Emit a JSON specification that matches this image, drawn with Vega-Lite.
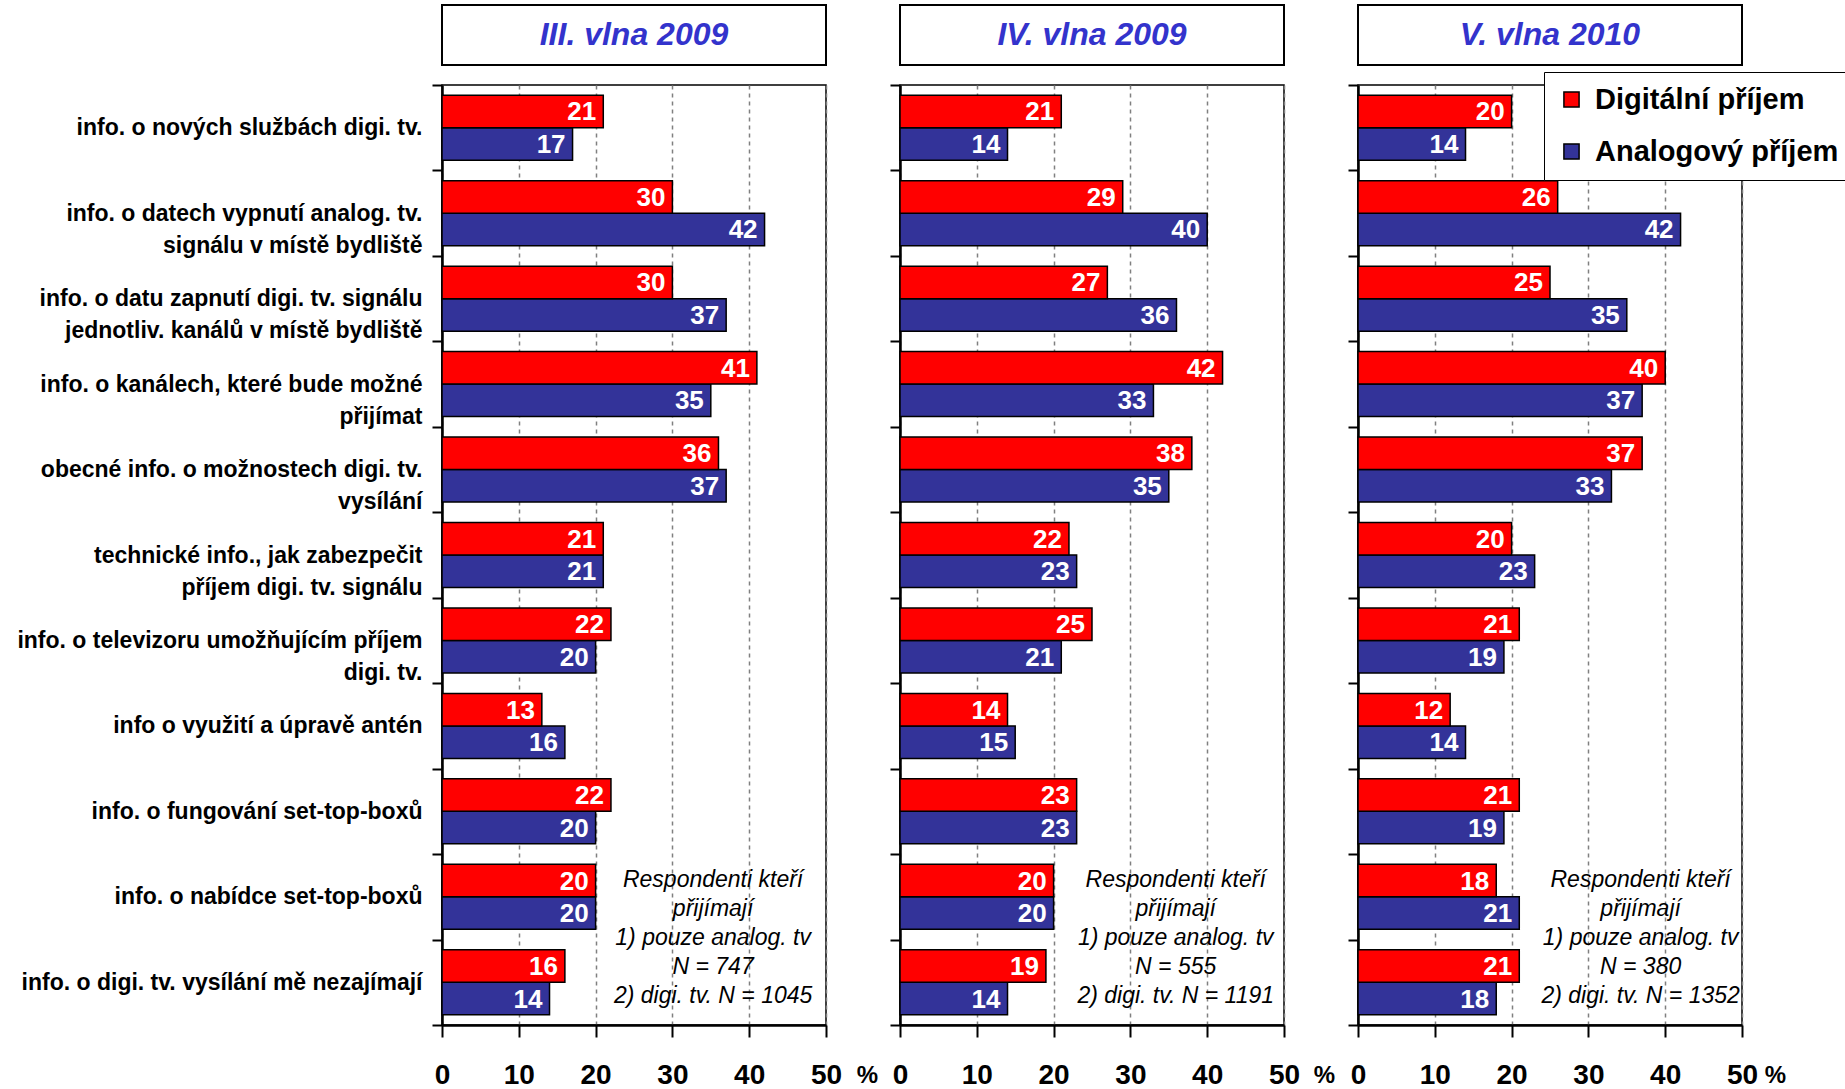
{
  "$schema": "https://vega.github.io/schema/vega-lite/v6.json",
  "background": "white",
  "padding": {"left": 16, "top": 4, "right": 0, "bottom": 0},
  "autosize": {"type": "pad"},
  "config": {
    "font": "Liberation Sans",
    "view": {"stroke": "black", "strokeWidth": 1.5},
    "axisX": {
      "labelFont": "Liberation Sans", "labelFontSize": 28, "labelFontWeight": "bold", "labelColor": "black",
      "labelPadding": 24, "tickSize": 12, "tickWidth": 2, "tickColor": "black",
      "domainColor": "black", "domainWidth": 2.5,
      "grid": true, "gridColor": "#808080", "gridDash": [4, 4], "gridWidth": 1.5,
      "labelFlush": false, "labelOverlap": false,
      "titleAlign": "center", "titleBaseline": "middle", "titleFont": "Liberation Sans", "titleFontSize": 24, "titleFontWeight": "bold", "titleColor": "black", "titleY": 50
    },
    "axisY": {
      "labelFont": "Liberation Sans", "labelFontSize": 23, "labelFontWeight": "bold", "labelColor": "black",
      "labelLineHeight": 32, "labelLimit": 600, "labelPadding": 10,
      "tickSize": 10, "tickWidth": 2, "tickColor": "black",
      "domainColor": "black", "domainWidth": 2.5, "tickBand": "extent", "grid": false
    }
  },
  "datasets": {
    "bars": [
      {"wave": "III. vlna 2009", "cat": "info. o nových službách digi. tv.", "Digitální příjem": 21, "Analogový příjem": 17},
      {"wave": "III. vlna 2009", "cat": "info. o datech vypnutí analog. tv.|signálu v místě bydliště", "Digitální příjem": 30, "Analogový příjem": 42},
      {"wave": "III. vlna 2009", "cat": "info. o datu zapnutí digi. tv. signálu|jednotliv. kanálů v místě bydliště", "Digitální příjem": 30, "Analogový příjem": 37},
      {"wave": "III. vlna 2009", "cat": "info. o kanálech, které bude možné|přijímat", "Digitální příjem": 41, "Analogový příjem": 35},
      {"wave": "III. vlna 2009", "cat": "obecné info. o možnostech digi. tv.|vysílání", "Digitální příjem": 36, "Analogový příjem": 37},
      {"wave": "III. vlna 2009", "cat": "technické info., jak zabezpečit|příjem digi. tv. signálu", "Digitální příjem": 21, "Analogový příjem": 21},
      {"wave": "III. vlna 2009", "cat": "info. o televizoru umožňujícím příjem|digi. tv.", "Digitální příjem": 22, "Analogový příjem": 20},
      {"wave": "III. vlna 2009", "cat": "info o využití a úpravě antén", "Digitální příjem": 13, "Analogový příjem": 16},
      {"wave": "III. vlna 2009", "cat": "info. o fungování set-top-boxů", "Digitální příjem": 22, "Analogový příjem": 20},
      {"wave": "III. vlna 2009", "cat": "info. o nabídce set-top-boxů", "Digitální příjem": 20, "Analogový příjem": 20},
      {"wave": "III. vlna 2009", "cat": "info. o digi. tv. vysílání mě nezajímají", "Digitální příjem": 16, "Analogový příjem": 14},
      {"wave": "IV. vlna 2009", "cat": "info. o nových službách digi. tv.", "Digitální příjem": 21, "Analogový příjem": 14},
      {"wave": "IV. vlna 2009", "cat": "info. o datech vypnutí analog. tv.|signálu v místě bydliště", "Digitální příjem": 29, "Analogový příjem": 40},
      {"wave": "IV. vlna 2009", "cat": "info. o datu zapnutí digi. tv. signálu|jednotliv. kanálů v místě bydliště", "Digitální příjem": 27, "Analogový příjem": 36},
      {"wave": "IV. vlna 2009", "cat": "info. o kanálech, které bude možné|přijímat", "Digitální příjem": 42, "Analogový příjem": 33},
      {"wave": "IV. vlna 2009", "cat": "obecné info. o možnostech digi. tv.|vysílání", "Digitální příjem": 38, "Analogový příjem": 35},
      {"wave": "IV. vlna 2009", "cat": "technické info., jak zabezpečit|příjem digi. tv. signálu", "Digitální příjem": 22, "Analogový příjem": 23},
      {"wave": "IV. vlna 2009", "cat": "info. o televizoru umožňujícím příjem|digi. tv.", "Digitální příjem": 25, "Analogový příjem": 21},
      {"wave": "IV. vlna 2009", "cat": "info o využití a úpravě antén", "Digitální příjem": 14, "Analogový příjem": 15},
      {"wave": "IV. vlna 2009", "cat": "info. o fungování set-top-boxů", "Digitální příjem": 23, "Analogový příjem": 23},
      {"wave": "IV. vlna 2009", "cat": "info. o nabídce set-top-boxů", "Digitální příjem": 20, "Analogový příjem": 20},
      {"wave": "IV. vlna 2009", "cat": "info. o digi. tv. vysílání mě nezajímají", "Digitální příjem": 19, "Analogový příjem": 14},
      {"wave": "V. vlna 2010", "cat": "info. o nových službách digi. tv.", "Digitální příjem": 20, "Analogový příjem": 14},
      {"wave": "V. vlna 2010", "cat": "info. o datech vypnutí analog. tv.|signálu v místě bydliště", "Digitální příjem": 26, "Analogový příjem": 42},
      {"wave": "V. vlna 2010", "cat": "info. o datu zapnutí digi. tv. signálu|jednotliv. kanálů v místě bydliště", "Digitální příjem": 25, "Analogový příjem": 35},
      {"wave": "V. vlna 2010", "cat": "info. o kanálech, které bude možné|přijímat", "Digitální příjem": 40, "Analogový příjem": 37},
      {"wave": "V. vlna 2010", "cat": "obecné info. o možnostech digi. tv.|vysílání", "Digitální příjem": 37, "Analogový příjem": 33},
      {"wave": "V. vlna 2010", "cat": "technické info., jak zabezpečit|příjem digi. tv. signálu", "Digitální příjem": 20, "Analogový příjem": 23},
      {"wave": "V. vlna 2010", "cat": "info. o televizoru umožňujícím příjem|digi. tv.", "Digitální příjem": 21, "Analogový příjem": 19},
      {"wave": "V. vlna 2010", "cat": "info o využití a úpravě antén", "Digitální příjem": 12, "Analogový příjem": 14},
      {"wave": "V. vlna 2010", "cat": "info. o fungování set-top-boxů", "Digitální příjem": 21, "Analogový příjem": 19},
      {"wave": "V. vlna 2010", "cat": "info. o nabídce set-top-boxů", "Digitální příjem": 18, "Analogový příjem": 21},
      {"wave": "V. vlna 2010", "cat": "info. o digi. tv. vysílání mě nezajímají", "Digitální příjem": 21, "Analogový příjem": 18}
    ],
    "notes": [
      {"wave": "III. vlna 2009", "cat": "info. o nabídce set-top-boxů", "x": 35.3, "note": "Respondenti kteří\npřijímají\n1) pouze analog. tv\nN = 747\n2) digi. tv. N = 1045"},
      {"wave": "IV. vlna 2009", "cat": "info. o nabídce set-top-boxů", "x": 35.9, "note": "Respondenti kteří\npřijímají\n1) pouze analog. tv\nN = 555\n2) digi. tv. N = 1191"},
      {"wave": "V. vlna 2010", "cat": "info. o nabídce set-top-boxů", "x": 36.8, "note": "Respondenti kteří\npřijímají\n1) pouze analog. tv\nN = 380\n2) digi. tv. N = 1352"}
    ]
  },
  "columns": 3,
  "bounds": "flush",
  "spacing": {"row": 20, "column": 74},
  "resolve": {"scale": {"yOffset": "independent", "color": "shared"}, "legend": {"color": "independent"}},
  "concat": [
    {
      "width": 384, "height": 60,
      "view": {"stroke": "black", "strokeWidth": 2, "fill": "white"},
      "data": {"values": [{"wave": "III. vlna 2009"}]},
      "mark": {"type": "text", "font": "Liberation Sans", "fontSize": 32, "fontWeight": "bold", "fontStyle": "italic", "color": "#3333CC"},
      "encoding": {"text": {"field": "wave", "type": "nominal"}}
    },
    {
      "width": 384, "height": 60,
      "view": {"stroke": "black", "strokeWidth": 2, "fill": "white"},
      "data": {"values": [{"wave": "IV. vlna 2009"}]},
      "mark": {"type": "text", "font": "Liberation Sans", "fontSize": 32, "fontWeight": "bold", "fontStyle": "italic", "color": "#3333CC"},
      "encoding": {"text": {"field": "wave", "type": "nominal"}}
    },
    {
      "width": 384, "height": 60,
      "view": {"stroke": "black", "strokeWidth": 2, "fill": "white"},
      "data": {"values": [{"wave": "V. vlna 2010"}]},
      "mark": {"type": "text", "font": "Liberation Sans", "fontSize": 32, "fontWeight": "bold", "fontStyle": "italic", "color": "#3333CC"},
      "encoding": {"text": {"field": "wave", "type": "nominal"}}
    },
    {
      "width": 384, "height": 940,
      "layer": [
        {
          "data": {"name": "bars"},
          "transform": [{"filter": "datum.wave == 'III. vlna 2009'"}, {"fold": ["Analogový příjem", "Digitální příjem"], "as": ["series", "value"]}],
          "mark": {"type": "bar", "stroke": "black", "strokeWidth": 1.5},
          "encoding": {
            "y": {"field": "cat", "type": "nominal", "title": null, "scale": {"domain": ["info. o nových službách digi. tv.", "info. o datech vypnutí analog. tv.|signálu v místě bydliště", "info. o datu zapnutí digi. tv. signálu|jednotliv. kanálů v místě bydliště", "info. o kanálech, které bude možné|přijímat", "obecné info. o možnostech digi. tv.|vysílání", "technické info., jak zabezpečit|příjem digi. tv. signálu", "info. o televizoru umožňujícím příjem|digi. tv.", "info o využití a úpravě antén", "info. o fungování set-top-boxů", "info. o nabídce set-top-boxů", "info. o digi. tv. vysílání mě nezajímají"], "paddingInner": 0, "paddingOuter": 0}, "axis": {"labelExpr": "split(datum.label, '|')", "encode": {"labels": {"update": {"dy": {"signal": "indexof(datum.value, '|') >= 0 ? -16 : 0"}}}}}},
            "x": {"field": "value", "type": "quantitative", "scale": {"domain": [0, 50], "nice": false}, "axis": {"values": [0, 10, 20, 30, 40, 50], "format": "d", "title": "%", "titleX": 425}},
            "yOffset": {"field": "series", "type": "nominal", "scale": {"domain": ["Digitální příjem", "Analogový příjem"], "paddingInner": 0, "paddingOuter": 0.315}},
            "color": {"field": "series", "type": "nominal", "scale": {"domain": ["Digitální příjem", "Analogový příjem"], "range": ["#FF0000", "#333399"]}, "legend": null}
          }
        },
        {
          "data": {"name": "bars"},
          "transform": [{"filter": "datum.wave == 'III. vlna 2009'"}, {"fold": ["Analogový příjem", "Digitální příjem"], "as": ["series", "value"]}],
          "mark": {"type": "text", "align": "right", "baseline": "middle", "dx": -7, "dy": 1, "color": "white", "font": "Liberation Sans", "fontSize": 26, "fontWeight": "bold"},
          "encoding": {
            "y": {"field": "cat", "type": "nominal", "title": null, "scale": {"domain": ["info. o nových službách digi. tv.", "info. o datech vypnutí analog. tv.|signálu v místě bydliště", "info. o datu zapnutí digi. tv. signálu|jednotliv. kanálů v místě bydliště", "info. o kanálech, které bude možné|přijímat", "obecné info. o možnostech digi. tv.|vysílání", "technické info., jak zabezpečit|příjem digi. tv. signálu", "info. o televizoru umožňujícím příjem|digi. tv.", "info o využití a úpravě antén", "info. o fungování set-top-boxů", "info. o nabídce set-top-boxů", "info. o digi. tv. vysílání mě nezajímají"], "paddingInner": 0, "paddingOuter": 0}, "axis": {"labelExpr": "split(datum.label, '|')", "encode": {"labels": {"update": {"dy": {"signal": "indexof(datum.value, '|') >= 0 ? -16 : 0"}}}}}},
            "x": {"field": "value", "type": "quantitative", "scale": {"domain": [0, 50], "nice": false}, "axis": {"values": [0, 10, 20, 30, 40, 50], "format": "d", "title": "%", "titleX": 425}},
            "yOffset": {"field": "series", "type": "nominal", "scale": {"domain": ["Digitální příjem", "Analogový příjem"], "paddingInner": 0, "paddingOuter": 0.315}},
            "text": {"field": "value", "type": "quantitative"}
          }
        },
        {
          "data": {"name": "notes"},
          "transform": [{"filter": "datum.wave == 'III. vlna 2009'"}],
          "mark": {"type": "text", "align": "center", "baseline": "middle", "lineBreak": "\n", "lineHeight": 29, "font": "Liberation Sans", "fontSize": 23, "fontStyle": "italic", "color": "black"},
          "encoding": {
            "y": {"field": "cat", "type": "nominal", "bandPosition": 0.3, "title": null, "scale": {"domain": ["info. o nových službách digi. tv.", "info. o datech vypnutí analog. tv.|signálu v místě bydliště", "info. o datu zapnutí digi. tv. signálu|jednotliv. kanálů v místě bydliště", "info. o kanálech, které bude možné|přijímat", "obecné info. o možnostech digi. tv.|vysílání", "technické info., jak zabezpečit|příjem digi. tv. signálu", "info. o televizoru umožňujícím příjem|digi. tv.", "info o využití a úpravě antén", "info. o fungování set-top-boxů", "info. o nabídce set-top-boxů", "info. o digi. tv. vysílání mě nezajímají"], "paddingInner": 0, "paddingOuter": 0}, "axis": {"labelExpr": "split(datum.label, '|')", "encode": {"labels": {"update": {"dy": {"signal": "indexof(datum.value, '|') >= 0 ? -16 : 0"}}}}}},
            "x": {"field": "x", "type": "quantitative", "scale": {"domain": [0, 50], "nice": false}, "axis": {"values": [0, 10, 20, 30, 40, 50], "format": "d", "title": "%", "titleX": 425}},
            "text": {"field": "note", "type": "nominal"}
          }
        }
      ]
    },
    {
      "width": 384, "height": 940,
      "layer": [
        {
          "data": {"name": "bars"},
          "transform": [{"filter": "datum.wave == 'IV. vlna 2009'"}, {"fold": ["Analogový příjem", "Digitální příjem"], "as": ["series", "value"]}],
          "mark": {"type": "bar", "stroke": "black", "strokeWidth": 1.5},
          "encoding": {
            "y": {"field": "cat", "type": "nominal", "title": null, "scale": {"domain": ["info. o nových službách digi. tv.", "info. o datech vypnutí analog. tv.|signálu v místě bydliště", "info. o datu zapnutí digi. tv. signálu|jednotliv. kanálů v místě bydliště", "info. o kanálech, které bude možné|přijímat", "obecné info. o možnostech digi. tv.|vysílání", "technické info., jak zabezpečit|příjem digi. tv. signálu", "info. o televizoru umožňujícím příjem|digi. tv.", "info o využití a úpravě antén", "info. o fungování set-top-boxů", "info. o nabídce set-top-boxů", "info. o digi. tv. vysílání mě nezajímají"], "paddingInner": 0, "paddingOuter": 0}, "axis": {"labels": false}},
            "x": {"field": "value", "type": "quantitative", "scale": {"domain": [0, 50], "nice": false}, "axis": {"values": [0, 10, 20, 30, 40, 50], "format": "d", "title": "%", "titleX": 424}},
            "yOffset": {"field": "series", "type": "nominal", "scale": {"domain": ["Digitální příjem", "Analogový příjem"], "paddingInner": 0, "paddingOuter": 0.315}},
            "color": {"field": "series", "type": "nominal", "scale": {"domain": ["Digitální příjem", "Analogový příjem"], "range": ["#FF0000", "#333399"]}, "legend": null}
          }
        },
        {
          "data": {"name": "bars"},
          "transform": [{"filter": "datum.wave == 'IV. vlna 2009'"}, {"fold": ["Analogový příjem", "Digitální příjem"], "as": ["series", "value"]}],
          "mark": {"type": "text", "align": "right", "baseline": "middle", "dx": -7, "dy": 1, "color": "white", "font": "Liberation Sans", "fontSize": 26, "fontWeight": "bold"},
          "encoding": {
            "y": {"field": "cat", "type": "nominal", "title": null, "scale": {"domain": ["info. o nových službách digi. tv.", "info. o datech vypnutí analog. tv.|signálu v místě bydliště", "info. o datu zapnutí digi. tv. signálu|jednotliv. kanálů v místě bydliště", "info. o kanálech, které bude možné|přijímat", "obecné info. o možnostech digi. tv.|vysílání", "technické info., jak zabezpečit|příjem digi. tv. signálu", "info. o televizoru umožňujícím příjem|digi. tv.", "info o využití a úpravě antén", "info. o fungování set-top-boxů", "info. o nabídce set-top-boxů", "info. o digi. tv. vysílání mě nezajímají"], "paddingInner": 0, "paddingOuter": 0}, "axis": {"labels": false}},
            "x": {"field": "value", "type": "quantitative", "scale": {"domain": [0, 50], "nice": false}, "axis": {"values": [0, 10, 20, 30, 40, 50], "format": "d", "title": "%", "titleX": 424}},
            "yOffset": {"field": "series", "type": "nominal", "scale": {"domain": ["Digitální příjem", "Analogový příjem"], "paddingInner": 0, "paddingOuter": 0.315}},
            "text": {"field": "value", "type": "quantitative"}
          }
        },
        {
          "data": {"name": "notes"},
          "transform": [{"filter": "datum.wave == 'IV. vlna 2009'"}],
          "mark": {"type": "text", "align": "center", "baseline": "middle", "lineBreak": "\n", "lineHeight": 29, "font": "Liberation Sans", "fontSize": 23, "fontStyle": "italic", "color": "black"},
          "encoding": {
            "y": {"field": "cat", "type": "nominal", "bandPosition": 0.3, "title": null, "scale": {"domain": ["info. o nových službách digi. tv.", "info. o datech vypnutí analog. tv.|signálu v místě bydliště", "info. o datu zapnutí digi. tv. signálu|jednotliv. kanálů v místě bydliště", "info. o kanálech, které bude možné|přijímat", "obecné info. o možnostech digi. tv.|vysílání", "technické info., jak zabezpečit|příjem digi. tv. signálu", "info. o televizoru umožňujícím příjem|digi. tv.", "info o využití a úpravě antén", "info. o fungování set-top-boxů", "info. o nabídce set-top-boxů", "info. o digi. tv. vysílání mě nezajímají"], "paddingInner": 0, "paddingOuter": 0}, "axis": {"labels": false}},
            "x": {"field": "x", "type": "quantitative", "scale": {"domain": [0, 50], "nice": false}, "axis": {"values": [0, 10, 20, 30, 40, 50], "format": "d", "title": "%", "titleX": 424}},
            "text": {"field": "note", "type": "nominal"}
          }
        }
      ]
    },
    {
      "width": 384, "height": 940,
      "layer": [
        {
          "data": {"name": "bars"},
          "transform": [{"filter": "datum.wave == 'V. vlna 2010'"}, {"fold": ["Analogový příjem", "Digitální příjem"], "as": ["series", "value"]}],
          "mark": {"type": "bar", "stroke": "black", "strokeWidth": 1.5},
          "encoding": {
            "y": {"field": "cat", "type": "nominal", "title": null, "scale": {"domain": ["info. o nových službách digi. tv.", "info. o datech vypnutí analog. tv.|signálu v místě bydliště", "info. o datu zapnutí digi. tv. signálu|jednotliv. kanálů v místě bydliště", "info. o kanálech, které bude možné|přijímat", "obecné info. o možnostech digi. tv.|vysílání", "technické info., jak zabezpečit|příjem digi. tv. signálu", "info. o televizoru umožňujícím příjem|digi. tv.", "info o využití a úpravě antén", "info. o fungování set-top-boxů", "info. o nabídce set-top-boxů", "info. o digi. tv. vysílání mě nezajímají"], "paddingInner": 0, "paddingOuter": 0}, "axis": {"labels": false}},
            "x": {"field": "value", "type": "quantitative", "scale": {"domain": [0, 50], "nice": false}, "axis": {"values": [0, 10, 20, 30, 40, 50], "format": "d", "title": "%", "titleX": 417}},
            "yOffset": {"field": "series", "type": "nominal", "scale": {"domain": ["Digitální příjem", "Analogový příjem"], "paddingInner": 0, "paddingOuter": 0.315}},
            "color": {"field": "series", "type": "nominal", "scale": {"domain": ["Digitální příjem", "Analogový příjem"], "range": ["#FF0000", "#333399"]}, "legend": {"orient": "none", "legendX": 186, "legendY": -13, "title": null, "fillColor": "white", "strokeColor": "black", "padding": 13, "labelFont": "Liberation Sans", "labelFontSize": 29, "labelFontWeight": "bold", "labelColor": "black", "labelLimit": 500, "labelOffset": 9, "symbolType": "square", "symbolSize": 230, "symbolStrokeColor": "black", "symbolStrokeWidth": 1.5, "rowPadding": 22}}
          }
        },
        {
          "data": {"name": "bars"},
          "transform": [{"filter": "datum.wave == 'V. vlna 2010'"}, {"fold": ["Analogový příjem", "Digitální příjem"], "as": ["series", "value"]}],
          "mark": {"type": "text", "align": "right", "baseline": "middle", "dx": -7, "dy": 1, "color": "white", "font": "Liberation Sans", "fontSize": 26, "fontWeight": "bold"},
          "encoding": {
            "y": {"field": "cat", "type": "nominal", "title": null, "scale": {"domain": ["info. o nových službách digi. tv.", "info. o datech vypnutí analog. tv.|signálu v místě bydliště", "info. o datu zapnutí digi. tv. signálu|jednotliv. kanálů v místě bydliště", "info. o kanálech, které bude možné|přijímat", "obecné info. o možnostech digi. tv.|vysílání", "technické info., jak zabezpečit|příjem digi. tv. signálu", "info. o televizoru umožňujícím příjem|digi. tv.", "info o využití a úpravě antén", "info. o fungování set-top-boxů", "info. o nabídce set-top-boxů", "info. o digi. tv. vysílání mě nezajímají"], "paddingInner": 0, "paddingOuter": 0}, "axis": {"labels": false}},
            "x": {"field": "value", "type": "quantitative", "scale": {"domain": [0, 50], "nice": false}, "axis": {"values": [0, 10, 20, 30, 40, 50], "format": "d", "title": "%", "titleX": 417}},
            "yOffset": {"field": "series", "type": "nominal", "scale": {"domain": ["Digitální příjem", "Analogový příjem"], "paddingInner": 0, "paddingOuter": 0.315}},
            "text": {"field": "value", "type": "quantitative"}
          }
        },
        {
          "data": {"name": "notes"},
          "transform": [{"filter": "datum.wave == 'V. vlna 2010'"}],
          "mark": {"type": "text", "align": "center", "baseline": "middle", "lineBreak": "\n", "lineHeight": 29, "font": "Liberation Sans", "fontSize": 23, "fontStyle": "italic", "color": "black"},
          "encoding": {
            "y": {"field": "cat", "type": "nominal", "bandPosition": 0.3, "title": null, "scale": {"domain": ["info. o nových službách digi. tv.", "info. o datech vypnutí analog. tv.|signálu v místě bydliště", "info. o datu zapnutí digi. tv. signálu|jednotliv. kanálů v místě bydliště", "info. o kanálech, které bude možné|přijímat", "obecné info. o možnostech digi. tv.|vysílání", "technické info., jak zabezpečit|příjem digi. tv. signálu", "info. o televizoru umožňujícím příjem|digi. tv.", "info o využití a úpravě antén", "info. o fungování set-top-boxů", "info. o nabídce set-top-boxů", "info. o digi. tv. vysílání mě nezajímají"], "paddingInner": 0, "paddingOuter": 0}, "axis": {"labels": false}},
            "x": {"field": "x", "type": "quantitative", "scale": {"domain": [0, 50], "nice": false}, "axis": {"values": [0, 10, 20, 30, 40, 50], "format": "d", "title": "%", "titleX": 417}},
            "text": {"field": "note", "type": "nominal"}
          }
        }
      ]
    }
  ]
}
